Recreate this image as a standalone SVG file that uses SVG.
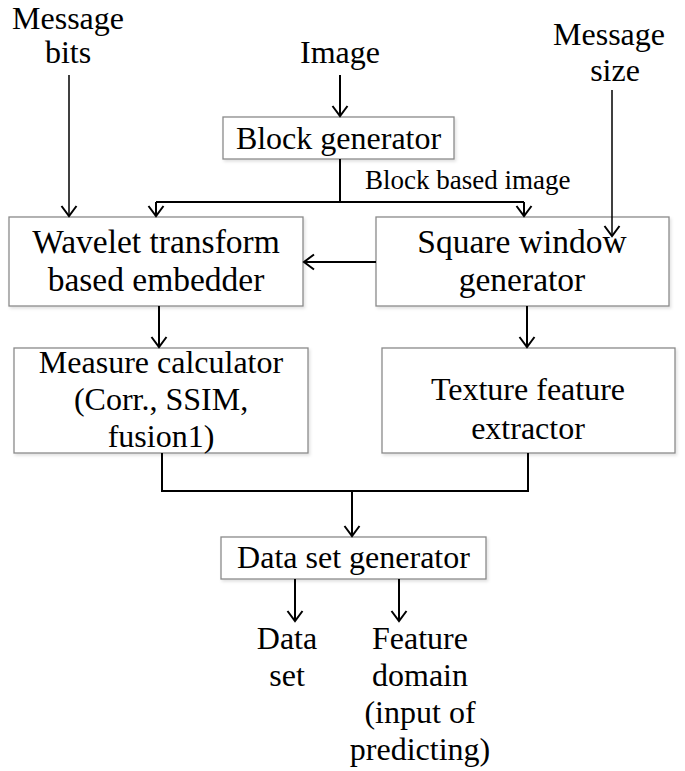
<svg xmlns="http://www.w3.org/2000/svg" width="685" height="771" viewBox="0 0 685 771">
<style>
  text { font-family: "Liberation Serif", "Times New Roman", serif; font-size: 32px; fill: #000; text-anchor: middle; }
  .small { font-size: 27px; text-anchor: start; }
  .box { fill: #fff; stroke: #8a8a8a; stroke-width: 1.3; filter: url(#sh); }
  .c { fill: none; stroke: #000; stroke-width: 2; }
  .thin { stroke-width: 1.5; }
</style>
<defs>
  <filter id="sh" x="-5%" y="-10%" width="115%" height="130%">
    <feDropShadow dx="1.5" dy="2" stdDeviation="1.5" flood-color="#000" flood-opacity="0.12"/>
  </filter>
  <marker id="arr" viewBox="-12 -9 14 18" refX="0" refY="0" markerWidth="14" markerHeight="18" markerUnits="userSpaceOnUse" orient="auto">
    <path d="M-10,-7.5 L0,0 L-10,7.5" fill="none" stroke="#000" stroke-width="2"/>
  </marker>
</defs>

<g id="input-message-bits">
  <text x="68" y="29">Message</text>
  <text x="68" y="63">bits</text>
</g>
<g id="input-image">
  <text x="340" y="63">Image</text>
</g>
<g id="input-message-size">
  <text x="609" y="45">Message</text>
  <text x="615" y="81">size</text>
</g>

<g id="block-generator">
  <rect class="box" x="223" y="117" width="231" height="42"/>
  <text x="338.5" y="149">Block generator</text>
</g>

<g id="wavelet-embedder">
  <rect class="box" x="9" y="217" width="294" height="89"/>
  <text x="156" y="253" style="font-size:33.5px">Wavelet transform</text>
  <text x="156" y="291" style="font-size:33.5px">based embedder</text>
</g>

<g id="square-window-generator">
  <rect class="box" x="376" y="217" width="293" height="89"/>
  <text x="522" y="253" style="font-size:33.5px">Square window</text>
  <text x="522" y="291" style="font-size:33.5px">generator</text>
</g>

<g id="measure-calculator">
  <rect class="box" x="14" y="348" width="294" height="105"/>
  <text x="161" y="373">Measure calculator</text>
  <text x="161" y="410">(Corr., SSIM,</text>
  <text x="161" y="447">fusion1)</text>
</g>

<g id="texture-feature-extractor">
  <rect class="box" x="382" y="348" width="293" height="105"/>
  <text x="528" y="400">Texture feature</text>
  <text x="528" y="439">extractor</text>
</g>

<g id="data-set-generator">
  <rect class="box" x="221" y="537" width="265" height="42"/>
  <text x="353.5" y="568">Data set generator</text>
</g>

<g id="output-data-set">
  <text x="287" y="649">Data</text>
  <text x="287" y="686">set</text>
</g>
<g id="output-feature-domain">
  <text x="420" y="649">Feature</text>
  <text x="420" y="686">domain</text>
  <text x="420" y="723">(input of</text>
  <text x="420" y="760">predicting)</text>
</g>

<g id="connectors">
  <path class="c thin" d="M69,75 V216" marker-end="url(#arr)"/>
  <path class="c" d="M340,75 V116" marker-end="url(#arr)"/>
  <path class="c" d="M340,159 V202"/>
  <path class="c" d="M156,202 H524"/>
  <path class="c" d="M156,202 V216" marker-end="url(#arr)"/>
  <path class="c" d="M524,202 V216" marker-end="url(#arr)"/>
  <text class="small" x="365" y="189">Block based image</text>
  <path class="c thin" d="M612,90 V236" marker-end="url(#arr)"/>
  <path class="c" d="M376,262 H304" marker-end="url(#arr)"/>
  <path class="c" d="M159,306 V347" marker-end="url(#arr)"/>
  <path class="c" d="M527,306 V347" marker-end="url(#arr)"/>
  <path class="c" d="M162,453 V491 H528 V453"/>
  <path class="c" d="M352,491 V536" marker-end="url(#arr)"/>
  <path class="c" d="M295,579 V621" marker-end="url(#arr)"/>
  <path class="c" d="M399,579 V621" marker-end="url(#arr)"/>
</g>
</svg>
